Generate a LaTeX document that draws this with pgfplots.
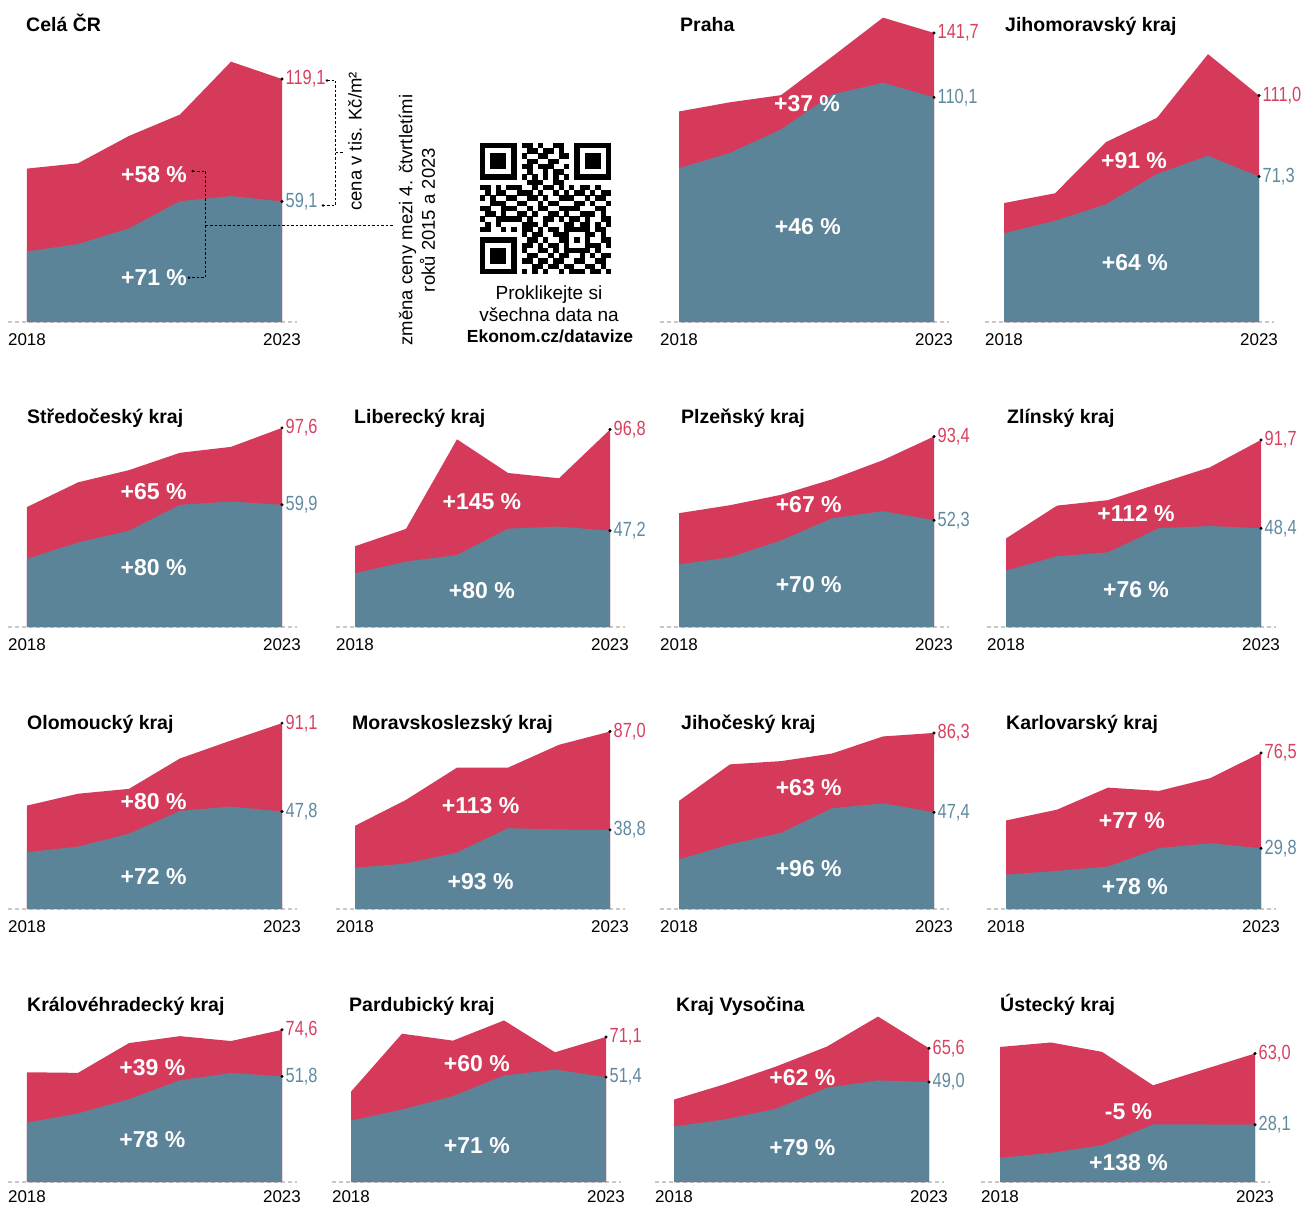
\documentclass[border=0pt]{standalone}
\usepackage{fontspec}
\setmainfont{Liberation Sans}
\newfontfamily\numfam[FakeStretch=0.8]{Liberation Sans}
\usepackage{pgfplots}
\pgfplotsset{compat=1.18}
\definecolor{cred}{HTML}{D63A5A}
\definecolor{cblue}{HTML}{5C8499}
\definecolor{credt}{HTML}{D8405F}
\definecolor{cbluet}{HTML}{6089A0}
\definecolor{cgrid}{HTML}{C8C8C8}

\newcommand\tfont{\fontsize{19.5}{22}\selectfont\bfseries}
\newcommand\pfont{\fontsize{23}{26}\selectfont\bfseries}
\newcommand\efont{\numfam\fontsize{20.5}{22}\selectfont}
\newcommand\kfont{\fontsize{17}{19}\selectfont}
\newcommand\afont{\fontsize{18.5}{22.5}\selectfont}
\newcommand\tks{-11.5pt}

\pgfplotsset{panel/.style={x=51pt,y=2.04pt,xmin=0,xmax=5,ymin=0,ymax=150,hide axis,clip=false,anchor=south west}}

\newcommand\panel[8]{%
\begin{axis}[panel,at={(#1pt,-#2pt)}]
\draw[cgrid,line width=1.1pt,dash pattern=on 4pt off 3pt] (axis cs:-0.37,0) -- (axis cs:5.29,0);
\addplot[fill=cred,draw=none] coordinates {#3} \closedcycle;
\addplot[fill=cblue,draw=none] coordinates {#4} \closedcycle;
\addplot[only marks,mark=*,mark size=1.3pt,black] coordinates {(5,#5) (5,#6)};
\node[font=\efont,text=credt,anchor=west,inner sep=0pt,xshift=3.5pt] at (axis cs:5,#5) {#7};
\node[font=\efont,text=cbluet,anchor=west,inner sep=0pt,xshift=3.5pt] at (axis cs:5,#6) {#8};
\node[font=\kfont,anchor=north,inner sep=0pt,yshift=\tks] at (axis cs:0,0) {2018};
\node[font=\kfont,anchor=north,inner sep=0pt,yshift=\tks] at (axis cs:5,0) {2023};
\end{axis}}

\newcommand\ttl[3]{\node[font=\tfont,anchor=base west,inner sep=0pt] at (#1pt,-#2pt) {#3};}
\newcommand\pct[3]{\node[font=\pfont,text=white,inner sep=0pt] at (#1pt,-#2pt) {#3};}

\newcount\qrc
\def\qrrow#1#2{\qrc=0 \def\qrr{#1}\qrparse#2\relax}
\def\qrparse#1{\ifx#1\relax\else\if1#1\fill (\the\qrc,-\qrr) rectangle ++(1.03,-1.03);\fi\advance\qrc by 1\relax\expandafter\qrparse\fi}

\begin{document}
\begin{tikzpicture}
\useasboundingbox (0,0) rectangle (1306pt,-1206pt);

% Row 1
\panel{27}{322}{(0,75.2)(1,77.8)(2,91.2)(3,101.7)(4,127.6)(5,119.1)}{(0,34.6)(1,38.2)(2,45.9)(3,59.2)(4,61.7)(5,59.1)}{119.1}{59.1}{119,1}{59,1}
\panel{679}{322}{(0,103.2)(1,107.7)(2,111.2)(3,130.0)(4,149.2)(5,141.7)}{(0,75.4)(1,82.9)(2,94.4)(3,111.5)(4,117.3)(5,110.1)}{141.7}{110.1}{141,7}{110,1}
\panel{1004}{322}{(0,58.3)(1,63.1)(2,88.2)(3,100.1)(4,131.3)(5,111.0)}{(0,43.5)(1,49.6)(2,57.7)(3,72.6)(4,81.5)(5,71.3)}{111.0}{71.3}{111,0}{71,3}
% Row 2
\panel{27}{627}{(0,58.8)(1,70.9)(2,76.9)(3,85.4)(4,88.3)(5,97.6)}{(0,33.4)(1,41.4)(2,47.2)(3,59.9)(4,61.5)(5,59.9)}{97.6}{59.9}{97,6}{59,9}
\panel{355}{627}{(0,39.6)(1,48.1)(2,92.0)(3,75.5)(4,72.9)(5,96.8)}{(0,26.3)(1,32.1)(2,35.3)(3,48.2)(4,49.2)(5,47.2)}{96.8}{47.2}{96,8}{47,2}
\panel{679}{627}{(0,55.8)(1,59.7)(2,64.8)(3,72.4)(4,81.8)(5,93.4)}{(0,30.7)(1,34.2)(2,42.4)(3,53.3)(4,56.8)(5,52.3)}{93.4}{52.3}{93,4}{52,3}
\panel{1006}{627}{(0,43.4)(1,59.5)(2,62.2)(3,70.3)(4,78.3)(5,91.7)}{(0,27.6)(1,34.7)(2,36.6)(3,48.4)(4,49.5)(5,48.4)}{91.7}{48.4}{91,7}{48,4}
% Row 3
\panel{27}{909}{(0,50.7)(1,56.5)(2,58.9)(3,73.8)(4,82.6)(5,91.1)}{(0,27.8)(1,30.6)(2,36.9)(3,48.1)(4,50.2)(5,47.8)}{91.1}{47.8}{91,1}{47,8}
\panel{355}{909}{(0,40.8)(1,53.5)(2,69.3)(3,69.3)(4,80.5)(5,87.0)}{(0,20.2)(1,22.3)(2,27.7)(3,39.6)(4,39.0)(5,38.8)}{87.0}{38.8}{87,0}{38,8}
\panel{679}{909}{(0,53.0)(1,70.9)(2,72.5)(3,76.2)(4,84.6)(5,86.3)}{(0,24.3)(1,31.7)(2,37.3)(3,49.4)(4,51.8)(5,47.4)}{86.3}{47.4}{86,3}{47,4}
\panel{1006}{909}{(0,43.4)(1,48.7)(2,59.5)(3,57.9)(4,64.1)(5,76.5)}{(0,16.8)(1,18.7)(2,20.8)(3,29.8)(4,32.2)(5,29.8)}{76.5}{29.8}{76,5}{29,8}
% Row 4
\renewcommand\tks{-8.5pt}
\panel{27}{1182}{(0,53.8)(1,53.5)(2,68.1)(3,71.5)(4,69.1)(5,74.6)}{(0,29.1)(1,33.6)(2,40.6)(3,49.9)(4,53.4)(5,51.8)}{74.6}{51.8}{74,6}{51,8}
\panel{351}{1182}{(0,44.3)(1,72.7)(2,69.3)(3,79.2)(4,63.6)(5,71.1)}{(0,30.1)(1,35.5)(2,42.1)(3,52.2)(4,55.1)(5,51.4)}{71.1}{51.4}{71,1}{51,4}
\panel{674}{1182}{(0,40.4)(1,48.0)(2,56.6)(3,66.4)(4,81.1)(5,65.6)}{(0,27.2)(1,30.7)(2,35.9)(3,46.2)(4,49.8)(5,49.0)}{65.6}{49.0}{65,6}{49,0}
\panel{1000}{1182}{(0,66.2)(1,68.4)(2,63.8)(3,47.4)(4,55.2)(5,63.0)}{(0,11.8)(1,14.3)(2,18.0)(3,28.2)(4,28.2)(5,28.1)}{63.0}{28.1}{63,0}{28,1}

% Titles
\ttl{26}{31.7}{Celá ČR}
\ttl{680}{31.7}{Praha}
\ttl{1005}{31.7}{Jihomoravský kraj}
\ttl{27}{423.3}{Středočeský kraj}
\ttl{354}{423.3}{Liberecký kraj}
\ttl{681}{423.3}{Plzeňský kraj}
\ttl{1007}{423.3}{Zlínský kraj}
\ttl{27}{729.3}{Olomoucký kraj}
\ttl{352}{729.3}{Moravskoslezský kraj}
\ttl{681}{729.3}{Jihočeský kraj}
\ttl{1006}{729.3}{Karlovarský kraj}
\ttl{27}{1011.7}{Královéhradecký kraj}
\ttl{349}{1011.7}{Pardubický kraj}
\ttl{676}{1011.7}{Kraj Vysočina}
\ttl{1000}{1011.7}{Ústecký kraj}

% Percent labels
\pct{154}{174.5}{+58 \%}
\pct{154}{278}{+71 \%}
\pct{807}{103.3}{+37 \%}
\pct{807.8}{226.7}{+46 \%}
\pct{1134}{160.7}{+91 \%}
\pct{1134.8}{262.3}{+64 \%}
\pct{153.6}{491.7}{+65 \%}
\pct{153.6}{567.3}{+80 \%}
\pct{481.9}{501.7}{+145 \%}
\pct{481.9}{590.7}{+80 \%}
\pct{808.7}{505}{+67 \%}
\pct{808.7}{585}{+70 \%}
\pct{1136}{513.3}{+112 \%}
\pct{1136}{590}{+76 \%}
\pct{153.6}{801.7}{+80 \%}
\pct{153.6}{876.7}{+72 \%}
\pct{480.6}{806}{+113 \%}
\pct{480.6}{881.7}{+93 \%}
\pct{808.7}{787.3}{+63 \%}
\pct{808.7}{868.3}{+96 \%}
\pct{1131.9}{820.7}{+77 \%}
\pct{1134.8}{886.7}{+78 \%}
\pct{152.4}{1067.3}{+39 \%}
\pct{152.4}{1140}{+78 \%}
\pct{476.9}{1064}{+60 \%}
\pct{476.9}{1146}{+71 \%}
\pct{802.4}{1077.7}{+62 \%}
\pct{802.4}{1147.3}{+79 \%}
\pct{1128.5}{1111.7}{-5 \%}
\pct{1128.5}{1162.3}{+138 \%}

% Annotations (Celá ČR)
\begin{scope}[line width=0.9pt,dash pattern=on 2.5pt off 2pt]
\draw (327pt,-80.5pt) -- (335.7pt,-80.5pt) -- (335.7pt,-205.5pt) -- (323pt,-205.5pt);
\draw (335.7pt,-152pt) -- (343pt,-152pt);
\draw (192.7pt,-171pt) -- (205.7pt,-171pt) -- (205.7pt,-277.7pt) -- (189pt,-277.7pt);
\draw (205.7pt,-225pt) -- (393pt,-225pt);
\end{scope}
\fill (327pt,-80.5pt) circle (1.4pt);
\fill (323pt,-205.5pt) circle (1.4pt);
\fill (192.7pt,-171pt) circle (1.4pt);
\fill (189pt,-277.7pt) circle (1.4pt);
\node[font=\afont,rotate=90,inner sep=0pt] at (355pt,-141.5pt) {cena v tis. Kč/m²};
\node[font=\afont,rotate=90,inner sep=0pt,align=center] at (417pt,-220pt) {změna ceny mezi 4. čtvrtletími\\roků 2015 a 2023};

% QR code
\begin{scope}[shift={(480pt,-143pt)},x=5.24pt,y=5.24pt]
\qrrow{0}{1111111011010011001111111}
\qrrow{1}{1000001001101101001000001}
\qrrow{2}{1011101010011001101011101}
\qrrow{3}{1011101001100110001011101}
\qrrow{4}{1011101011011100101011101}
\qrrow{5}{1000001001001011001000001}
\qrrow{6}{1111111010101010101111111}
\qrrow{7}{0000000001110011000000000}
\qrrow{8}{1101011100101101010110100}
\qrrow{9}{0101100111010010101101011}
\qrrow{10}{1010011001101001110010110}
\qrrow{11}{0011100110010110001101001}
\qrrow{12}{1100111001011001111000110}
\qrrow{13}{0110100110100110100111010}
\qrrow{14}{1001111101001101011010011}
\qrrow{15}{0101000011101000110110101}
\qrrow{16}{1100101011010110111110110}
\qrrow{17}{0000000010110011100011010}
\qrrow{18}{1111111001101001101010011}
\qrrow{19}{1000001011010110100011101}
\qrrow{20}{1011101010011010111110100}
\qrrow{21}{1011101001100101100101011}
\qrrow{22}{1011101011011011001100110}
\qrrow{23}{1000001000110110110011010}
\qrrow{24}{1111111010101001011101101}
\end{scope}
\node[font=\fontsize{19}{22}\selectfont,anchor=base,inner sep=0pt] at (549pt,-299.3pt) {Proklikejte si};
\node[font=\fontsize{19}{22}\selectfont,anchor=base,inner sep=0pt] at (549pt,-321.7pt) {všechna data na};
\node[font=\fontsize{17.5}{22}\selectfont\bfseries,anchor=base,inner sep=0pt] at (550pt,-342.7pt) {Ekonom.cz/datavize};
\end{tikzpicture}
\end{document}
